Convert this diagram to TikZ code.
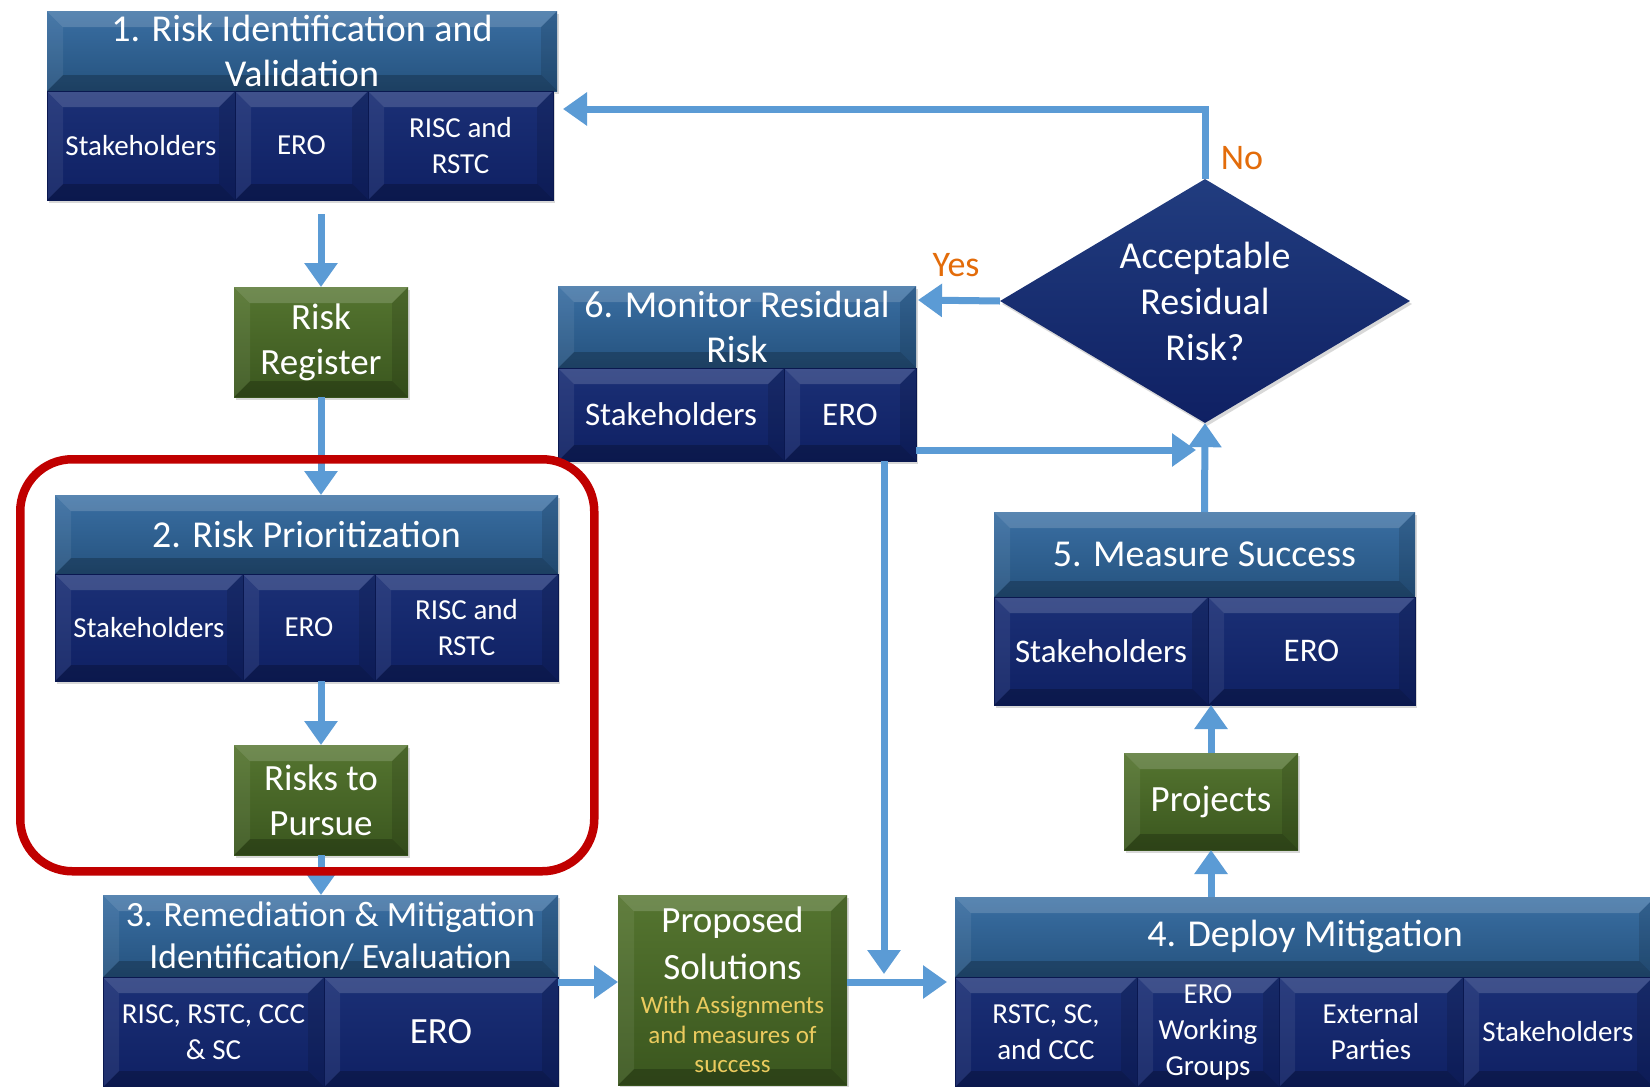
\documentclass[tikz,border=0pt]{standalone}
\usepackage{fontspec}
\setmainfont{Carlito}
\usetikzlibrary{shapes.geometric,arrows.meta,shadows}
\definecolor{bandtop}{HTML}{3A6FA3}
\definecolor{bandbot}{HTML}{25527E}
\definecolor{celltop}{HTML}{1B3076}
\definecolor{cellbot}{HTML}{0F2063}
\definecolor{celledge}{HTML}{0A1850}
\definecolor{grntop}{HTML}{557530}
\definecolor{grnbot}{HTML}{3A561E}
\definecolor{arrowblue}{HTML}{5B9BD5}
\definecolor{framered}{HTML}{C00000}
\definecolor{lblorange}{HTML}{E36C0A}
\definecolor{subyellow}{HTML}{EBCB5E}
\tikzset{
 bevel/.style={path picture={
   \fill[white,opacity=.16] (path picture bounding box.north west) -- (path picture bounding box.north east) -- ([xshift=-16pt,yshift=-16pt]path picture bounding box.north east) -- ([xshift=16pt,yshift=-16pt]path picture bounding box.north west) -- cycle;
   \fill[black,opacity=.22] (path picture bounding box.south west) -- (path picture bounding box.south east) -- ([xshift=-16pt,yshift=16pt]path picture bounding box.south east) -- ([xshift=16pt,yshift=16pt]path picture bounding box.south west) -- cycle;
   \fill[white,opacity=.07] (path picture bounding box.north west) -- ([xshift=16pt,yshift=-16pt]path picture bounding box.north west) -- ([xshift=16pt,yshift=16pt]path picture bounding box.south west) -- (path picture bounding box.south west) -- cycle;
   \fill[black,opacity=.12] (path picture bounding box.north east) -- ([xshift=-16pt,yshift=-16pt]path picture bounding box.north east) -- ([xshift=-16pt,yshift=16pt]path picture bounding box.south east) -- (path picture bounding box.south east) -- cycle;
 }},
 boxbase/.style={rectangle, anchor=north west, inner sep=0pt, outer sep=0pt, text=white, align=center, bevel,
   drop shadow={shadow xshift=2pt,shadow yshift=-3pt,opacity=.3}},
 band/.style={boxbase, top color=bandtop, bottom color=bandbot, font=\fontsize{38}{45}\selectfont},
 cell/.style={boxbase, top color=celltop, bottom color=cellbot, draw=celledge, line width=1pt, font=\fontsize{29}{36}\selectfont},
 bigcell/.style={cell, font=\fontsize{33}{40}\selectfont},
 grn/.style={boxbase, top color=grntop, bottom color=grnbot, font=\fontsize{37}{45}\selectfont},
 arr/.style={draw=arrowblue, line width=7pt, -{Triangle[length=24pt,width=32pt]}},
 lbl/.style={text=lblorange, font=\fontsize{36}{40}\selectfont, inner sep=0pt},
}
\begin{document}
\begin{tikzpicture}[x=1pt,y=-1pt]
\useasboundingbox (0,0) rectangle (1650,1087);
\clip (0,0) rectangle (1650,1087);
\fill[white] (0,0) rectangle (1650,1087);

% Box 1
\node[band, minimum width=510pt, minimum height=80pt] (t1) at (47,11) {1. Risk Identification and\\Validation};
\node[cell, minimum width=188pt, minimum height=109pt] (c1a) at (47,91) {Stakeholders};
\node[cell, minimum width=133pt, minimum height=109pt] (c1b) at (235,91) {ERO};
\node[cell, minimum width=185pt, minimum height=109pt] (c1c) at (368,91) {RISC and\\RSTC};

% Risk register
\node[grn, minimum width=174pt, minimum height=110pt] (rr) at (234,287) {Risk\\Register};

% Box 2
\node[band, minimum width=503pt, minimum height=79pt] (t2) at (55,495) {2. Risk Prioritization};
\node[cell, minimum width=188pt, minimum height=107pt] (c2a) at (55,574) {Stakeholders};
\node[cell, minimum width=132pt, minimum height=107pt] (c2b) at (243,574) {ERO};
\node[cell, minimum width=183pt, minimum height=107pt] (c2c) at (375,574) {RISC and\\RSTC};

% Risks to pursue
\node[grn, minimum width=174pt, minimum height=110pt] (rp) at (234,745) {Risks to\\Pursue};

% Box 3
\node[band, minimum width=455pt, minimum height=82pt, font=\fontsize{35.5}{42}\selectfont] (t3) at (103,895) {3. Remediation \& Mitigation\\Identification/ Evaluation};
\node[cell, minimum width=221pt, minimum height=110pt] (c3a) at (103,977) {RISC, RSTC, CCC\\\& SC};
\node[cell, minimum width=234pt, minimum height=110pt, font=\fontsize{37}{44}\selectfont] (c3b) at (324,977) {ERO};

% Proposed solutions
\node[grn, minimum width=229pt, minimum height=190pt] (ps) at (618,895) {};
\node[anchor=north, inner sep=0pt, text=white, align=center, font=\fontsize{37}{47}\selectfont] (pst) at ([yshift=-12pt]ps.north) {Proposed\\Solutions};
\node[anchor=north, inner sep=0pt, text=subyellow, align=center, font=\fontsize{25}{29.5}\selectfont] (psy) at ([yshift=-101pt]ps.north) {With Assignments\\and measures of\\success};

% Box 4
\node[band, minimum width=700pt, minimum height=80pt] (t4) at (955,897) {4. Deploy Mitigation};
\node[cell, minimum width=182pt, minimum height=110pt] (c4a) at (955,977) {RSTC, SC,\\and CCC};
\node[cell, minimum width=142pt, minimum height=110pt] (c4b) at (1137,977) {ERO\\Working\\Groups};
\node[cell, minimum width=184pt, minimum height=110pt] (c4c) at (1279,977) {External\\Parties};
\node[cell, minimum width=190pt, minimum height=110pt] (c4d) at (1463,977) {Stakeholders};

% Projects
\node[grn, minimum width=174pt, minimum height=97pt] (pj) at (1124,753) {Projects};

% Box 5
\node[band, minimum width=421pt, minimum height=85pt] (t5) at (994,512) {5. Measure Success};
\node[bigcell, minimum width=214pt, minimum height=108pt] (c5a) at (994,597) {Stakeholders};
\node[bigcell, minimum width=207pt, minimum height=108pt] (c5b) at (1208,597) {ERO};

% Box 6
\node[band, minimum width=358pt, minimum height=82pt] (t6) at (558,286) {6. Monitor Residual\\Risk};
\node[bigcell, minimum width=226pt, minimum height=93pt] (c6a) at (558,368) {Stakeholders};
\node[bigcell, minimum width=132pt, minimum height=93pt] (c6b) at (784,368) {ERO};

% Decision
\node[diamond, shape aspect=1.68, minimum width=410pt, minimum height=244pt, inner sep=0pt, top color=celltop!80!bandtop, bottom color=cellbot,
  text=white, align=center, font=\fontsize{38}{46}\selectfont,
  drop shadow={shadow xshift=2pt,shadow yshift=-3pt,opacity=.3}] (dm) at (1205,301) {Acceptable\\Residual\\Risk?};

% Labels
\node[lbl] (no) at (1242,158) {No};
\node[lbl] (yes) at (956,265) {Yes};

% Connector end points
\coordinate (noend) at (563,109);
\coordinate (yesend) at (918,300);
\coordinate (m6r) at (916,450);
\coordinate (dmin) at (1196,450);
\coordinate (mdn) at (884,974);
\coordinate (psin) at ([yshift=8pt]ps.west);
\coordinate (psout) at ([yshift=8pt]ps.east);
\coordinate (d4in) at (947,982);

% Connectors
\draw[arr, shorten <=14pt] (c1b.south -| rr.north) -- (rr.north);
\draw[arr] (rr.south) -- (rr.south |- t2.north);
\draw[arr] (rp.north |- c2b.south) -- (rp.north);
\draw[arr] (rp.south) -- (rp.south |- t3.north);
\draw[arr] (c3b.east |- psin) -- (psin);
\draw[arr] (psout) -- (d4in);
\draw[arr] (c6a.south -| mdn) -- (mdn);
\draw[arr] (pj.south |- t4.north) -- (pj.south);
\draw[arr] (pj.north) -- (pj.north |- c5a.south);
\draw[arr] (t5.north) -- (dm.south);
\draw[arr] (m6r) -- (dmin);
\draw[arr] (dm.west) -- (yesend);
\draw[arr] (dm.north) |- (noend);

% Highlight frame
\node[draw=framered, line width=8.5pt, rounded corners=52pt, anchor=north west, inner sep=0pt,
  minimum width=574pt, minimum height=412pt] (hl) at (16,455) {};
\end{tikzpicture}
\end{document}
